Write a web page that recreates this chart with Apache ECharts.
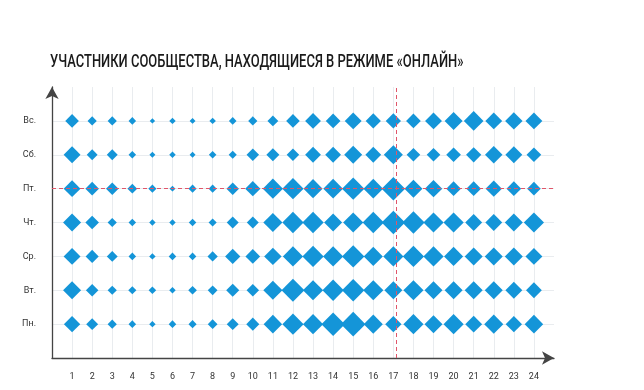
<!DOCTYPE html>
<html>
<head>
<meta charset="utf-8">
<script src="https://cdn.jsdelivr.net/npm/echarts@6/dist/echarts.min.js"></script>
<style>html,body{margin:0;padding:0;background:#fff}#c{width:644px;height:390px}</style>
</head>
<body>
<div id="c"></div>
<script>
const titleText = 'УЧАСТНИКИ СООБЩЕСТВА, НАХОДЯЩИЕСЯ В РЕЖИМЕ «ОНЛАЙН»';
const hours = ['1','2','3','4','5','6','7','8','9','10','11','12','13','14','15','16','17','18','19','20','21','22','23','24'];
const days = ['Пн.','Вт.','Ср.','Чт.','Пт.','Сб.','Вс.'];
// diamond sizes, one array per weekday, hours 1..24
const mon = [13.5,9.5,7,5.5,4.5,5.5,6,7.5,9.5,10.5,15.5,18,17,20,21,16,13.5,17,15,17,14,16,13.5,15.5];
const tue = [15,10,7,6,5.5,4.5,6.5,7.5,10.5,10,16,19.5,17,18,19,17,15,17,15,15,15,15,14,13];
const wed = [14,10.5,8.5,5.5,4.5,5.5,5.5,8,12.5,12,14.5,17,18,17,19,16,17,18,17,16,15,15,15,14];
const thu = [15,11,7,5.5,4.5,4.5,5.5,6,9.5,9.5,16,18,18,15,17,18,20,19,17,17,14,14,15,17];
const fri = [14,11,10,7.5,6,4,6,6,10,12.5,17,18,16,16.5,19,16.5,20,15,14.5,12,12,13.5,12,11];
const sat = [14,8.5,8.5,5.5,4,4.5,4,5.5,6,10,10.5,10,13,13,15,13,16,11,11,12,12.5,14.5,14,12];
const sun = [11,7,7,5.5,3.5,4.5,4,4.5,5.5,7,8.5,11,13,12,14,12.5,12.5,12,14,15,16.5,14,14.5,14];
const rows = [mon, tue, wed, thu, fri, sat, sun];
const markHour = 17.15;
const markDay = 5;

const data = [];
rows.forEach((r, di) => r.forEach((v, hi) => data.push([hi + 1, di + 1, v])));

const font = "Roboto, 'DejaVu Sans', sans-serif";
const chart = echarts.init(document.getElementById('c'), null, {renderer: 'canvas'});
chart.setOption({
  animation: false,
  graphic: [{
    type: 'text', x: 50, y: 53, scaleX: 0.72,
    style: {text: titleText, font: "500 18px Roboto, 'DejaVu Sans', sans-serif", fill: '#1a1a1a', textVerticalAlign: 'top'}
  }],
  grid: {left: 52, right: 90, top: 87, bottom: 32, containLabel: false},
  xAxis: {
    type: 'value', min: 0, max: 25, interval: 1,
    axisLine: {show: true, symbol: ['none', 'arrow'], symbolSize: [10, 12], lineStyle: {color: '#444', width: 1.3}},
    axisTick: {show: false},
    axisLabel: {
      margin: 14, fontFamily: font, fontSize: 9, color: '#333',
      formatter: v => (v >= 1 && v <= 24) ? hours[v - 1] : ''
    },
    splitLine: {show: true, showMinLine: false, showMaxLine: false, lineStyle: {color: '#e9ecef', width: 1}}
  },
  yAxis: {
    type: 'value', min: 0, max: 8, interval: 1,
    axisLine: {show: true, symbol: ['none', 'arrow'], symbolSize: [10, 12], lineStyle: {color: '#444', width: 1.3}},
    axisTick: {show: false},
    axisLabel: {
      margin: 16, fontFamily: font, fontSize: 9, color: '#333',
      formatter: v => (v >= 1 && v <= 7) ? days[v - 1] : ''
    },
    splitLine: {show: true, showMinLine: false, showMaxLine: false, lineStyle: {color: '#e9ecef', width: 1}}
  },
  series: [{
    type: 'scatter',
    symbol: 'diamond',
    symbolSize: d => d[2] * 1.1 + 1.5,
    itemStyle: {color: '#1495d8', opacity: 1},
    data: data,
    markLine: {
      silent: true, symbol: 'none', label: {show: false},
      lineStyle: {type: [4, 3], color: '#e0566a', width: 1},
      data: [{xAxis: markHour}, {yAxis: markDay}]
    }
  }]
});
</script>
</body>
</html>
